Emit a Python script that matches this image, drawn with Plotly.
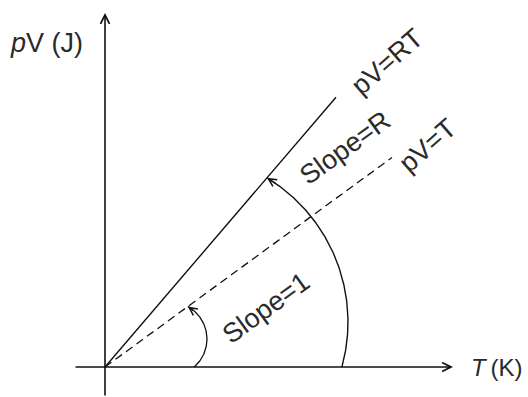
import numpy as np
import plotly.graph_objects as go

# Schematic pV against T for an ideal gas (arbitrary units)
R = 1.6                      # slope of the pV = RT line
T_rt = [0.0, 2.31]           # extent of pV = RT
T_t = [0.0, 2.87]            # extent of pV = T
T_axis = [-0.31, 3.48]       # horizontal axis extent
pV_axis = [-0.41, 4.85]      # vertical axis extent

pV_rt = [R * t for t in T_rt]
pV_t = list(T_t)

# drawing scale (pixels per data unit) used to keep the angle arcs circular
SX, SY = 100.0, 73.0
X_RANGE = [-1.05, 4.23]
Y_RANGE = [-30 / SY, 367 / SY]

INK = "#111111"
TXT = "#2a2a2a"
FONT = "Liberation Sans, Arial, sans-serif"


def angle_arc(cx, cy, r, slope, n=200):
    """Arc (in pixel-scaled space) from the T axis to the line pV = slope*T."""
    th = np.linspace(-np.pi / 2, np.pi / 2, 4000)
    px = cx + r * np.cos(th)
    py = cy + r * np.sin(th)
    start = th[np.argmin(np.abs(py))]
    m = slope * SY / SX
    end = th[np.argmin(np.abs(py - m * px))]
    t = np.linspace(start, end, n)
    return (cx + r * np.cos(t)) / SX, (cy + r * np.sin(t)) / SY


big_x, big_y = angle_arc(74, 45, 169, R)
small_x, small_y = angle_arc(65, 28, 37, 1.0)

fig = go.Figure()
fig.add_trace(go.Scatter(x=T_rt, y=pV_rt, mode="lines",
                         line=dict(color=INK, width=1.4), hoverinfo="skip"))
fig.add_trace(go.Scatter(x=T_t, y=pV_t, mode="lines",
                         line=dict(color=INK, width=1.3, dash="8px,5px"), hoverinfo="skip"))
fig.add_trace(go.Scatter(x=big_x, y=big_y, mode="lines",
                         line=dict(color=INK, width=1.4), hoverinfo="skip"))
fig.add_trace(go.Scatter(x=small_x, y=small_y, mode="lines",
                         line=dict(color=INK, width=1.3), hoverinfo="skip"))

annotations = []


def arrow(x0, y0, x1, y1, width=1.6, size=1.1):
    annotations.append(dict(x=x1, y=y1, ax=x0, ay=y0, xref="x", yref="y",
                            axref="x", ayref="y", text="", showarrow=True,
                            arrowhead=5, arrowsize=size, arrowwidth=width,
                            arrowcolor=INK, standoff=0, startstandoff=0))


# axes with arrow tips
arrow(T_axis[0], 0, T_axis[1], 0)
arrow(0, pV_axis[0], 0, pV_axis[1])
# arrow tips at the ends of the angle arcs
arrow(big_x[-12], big_y[-12], big_x[-1], big_y[-1], width=1.3, size=1.2)
arrow(small_x[-25], small_y[-25], small_x[-1], small_y[-1], width=1.3, size=1.2)


def label(x, y, text, angle=0, size=27, xanchor="center"):
    annotations.append(dict(x=x, y=y, xref="x", yref="y", text=text,
                            showarrow=False, textangle=angle,
                            xanchor=xanchor, yanchor="middle",
                            font=dict(family=FONT, size=size, color=TXT)))


label(-0.59, 4.44, "<i>p</i>V (J)")
label(3.64, 0.0, "<i>T</i>\u2009(K)", size=24, xanchor="left")
label(2.82, 4.18, "pV=RT", angle=-41)
label(2.40, 3.00, "Slope=R", angle=-36)
label(3.22, 3.03, "pV=T", angle=-41)
label(1.61, 0.81, "Slope=1", angle=-36)

fig.update_layout(
    width=528, height=397,
    margin=dict(l=0, r=0, t=0, b=0),
    paper_bgcolor="white", plot_bgcolor="white",
    showlegend=False,
    xaxis=dict(range=X_RANGE, visible=False, fixedrange=True),
    yaxis=dict(range=Y_RANGE, visible=False, fixedrange=True),
    annotations=annotations,
)

fig.write_html("out.html")
